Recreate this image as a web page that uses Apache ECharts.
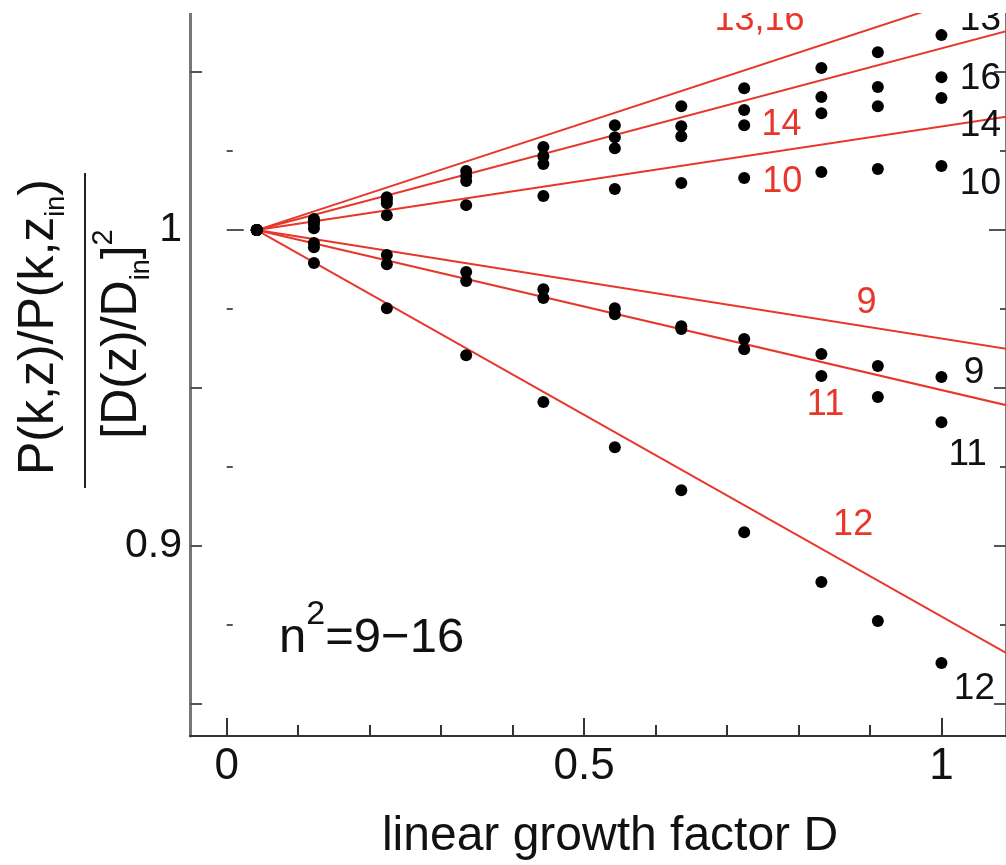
<!DOCTYPE html>
<html>
<head>
<meta charset="utf-8">
<script src="https://cdn.jsdelivr.net/npm/echarts@6/dist/echarts.min.js"></script>
<style>
  html, body { margin: 0; padding: 0; background: #fff; }
  #chart { width: 1006px; height: 865px; }
</style>
</head>
<body>
<div id="chart"></div>
<script>
// Linear growth factor D at each output time
const growthD = [0.042, 0.122, 0.224, 0.335, 0.443, 0.543, 0.636, 0.724, 0.832, 0.911, 1.0];

// P(k,z)/P(k,z_in) / [D(z)/D_in]^2 for each mode n^2
const ratioN9  = [1.0000, 0.9959, 0.9921, 0.9867, 0.9813, 0.9753, 0.9696, 0.9655, 0.9608, 0.9570, 0.9535];
const ratioN10 = [1.0000, 1.0006, 1.0047, 1.0079, 1.0108, 1.0130, 1.0149, 1.0165, 1.0184, 1.0193, 1.0203];
const ratioN11 = [1.0000, 0.9946, 0.9892, 0.9839, 0.9785, 0.9734, 0.9687, 0.9623, 0.9538, 0.9472, 0.9392];
const ratioN12 = [1.0000, 0.9896, 0.9753, 0.9604, 0.9456, 0.9313, 0.9177, 0.9044, 0.8886, 0.8763, 0.8630];
const ratioN13 = [1.0000, 1.0035, 1.0104, 1.0187, 1.0263, 1.0332, 1.0392, 1.0449, 1.0513, 1.0563, 1.0617];
const ratioN14 = [1.0000, 1.0019, 1.0085, 1.0155, 1.0209, 1.0259, 1.0297, 1.0332, 1.0370, 1.0392, 1.0418];
const ratioN16 = [1.0000, 1.0028, 1.0095, 1.0171, 1.0234, 1.0294, 1.0329, 1.0380, 1.0421, 1.0453, 1.0484];

const modeNames = ['9', '10', '11', '12', '13', '14', '16'];
const modeRatios = [ratioN9, ratioN10, ratioN11, ratioN12, ratioN13, ratioN14, ratioN16];

// Perturbative predictions: straight lines from the first output
const predictionNames = ['13,16', '14', '10', '9', '11', '12'];
const predictionStart = [0.042, 1.0];
const predictionEndD = 1.1;
const predictionEndValues = [1.0784, 1.0635, 1.0362, 0.9621, 0.9441, 0.8650];

// Axis ticks
const xMajorTicks = [0, 0.5, 1];
const xMinorTicks = [0.1, 0.2, 0.3, 0.4, 0.6, 0.7, 0.8, 0.9];
const yLabelTicks = [0.9, 1];
const yMajorTicks = [0.85, 0.9, 0.95, 1.05];
const yMinorTicks = [0.875, 0.925, 0.975, 1.025];
const yUnityTick = [1];

// Axis ranges
const xRange = [-0.0514, 1.0903];
const yRange = [0.8399, 1.0687];

// Text annotations: [D, ratio, text]
const predictionTags = [
  [0.6818, 1.0665, '13,16'],
  [0.7474, 1.0332, '14'],
  [0.7484, 1.0152, '10'],
  [0.8804, 0.9769, '9'],
  [0.8109, 0.9446, '11'],
  [0.8477, 0.9066, '12']
];
const modeTags = [
  [1.0250, 1.0665, '13'],
  [1.0250, 1.0478, '16'],
  [1.0250, 1.0329, '14'],
  [1.0250, 1.0146, '10'],
  [1.0305, 0.9549, '9'],
  [1.0090, 0.9288, '11'],
  [1.0166, 0.8549, '12']
];

const FONT = '"Liberation Sans", Arial, Helvetica, sans-serif';
const RED = '#e8372a';
const INK = '#111';
const AXIS_GREY = '#555';

const chart = echarts.init(document.getElementById('chart'), null, { renderer: 'canvas' });

function yAxisDef(position, ticks, len, extra) {
  return Object.assign({
    type: 'value', position: position, min: yRange[0], max: yRange[1],
    axisLine: { show: false },
    axisTick: { show: true, inside: true, length: len, customValues: ticks,
                lineStyle: { color: AXIS_GREY, width: 2 } },
    axisLabel: { show: false },
    splitLine: { show: false }
  }, extra || {});
}

const series = [];

predictionNames.forEach((name, i) => {
  series.push({
    name: 'pred ' + name, type: 'line', xAxisIndex: 0, yAxisIndex: 0,
    data: [predictionStart, [predictionEndD, predictionEndValues[i]]],
    showSymbol: false, symbol: 'none', silent: true, clip: true,
    lineStyle: { color: RED, width: 2 }, z: 3
  });
});

modeNames.forEach((name, i) => {
  series.push({
    name: 'n2=' + name, type: 'scatter', xAxisIndex: 0, yAxisIndex: 0,
    data: growthD.map((d, j) => [d, modeRatios[i][j]]),
    symbol: 'circle', symbolSize: 12, silent: true,
    itemStyle: { color: '#000', opacity: 1 }, z: 4
  });
});

function tagSeries(name, tags, color, size) {
  return {
    name: name, type: 'scatter', xAxisIndex: 0, yAxisIndex: 0, silent: true,
    data: tags.map(t => ({ value: [t[0], t[1]], name: t[2] })),
    symbol: 'circle', symbolSize: 1,
    itemStyle: { color: 'rgba(0,0,0,0)', opacity: 1 },
    label: { show: true, position: 'right', distance: 0, color: color,
             fontSize: size, fontFamily: FONT, formatter: p => p.name },
    z: 5
  };
}
series.push(tagSeries('prediction tags', predictionTags, RED, 36));
series.push(tagSeries('mode tags', modeTags, INK, 37));

const option = {
  animation: false,
  backgroundColor: '#fff',
  grid: { left: 190, top: 13, width: 822, height: 723, containLabel: false },
  xAxis: [
    {
      type: 'value', position: 'bottom', min: xRange[0], max: xRange[1],
      axisLine: { show: true, onZero: false, lineStyle: { color: '#333', width: 2 } },
      axisTick: { show: true, inside: true, length: 18, customValues: xMajorTicks,
                  lineStyle: { color: '#333', width: 2 } },
      axisLabel: { show: true, customValues: xMajorTicks, fontSize: 44, fontFamily: FONT,
                   color: INK, margin: 9 },
      splitLine: { show: false }
    },
    {
      type: 'value', position: 'bottom', min: xRange[0], max: xRange[1],
      axisLine: { show: false },
      axisTick: { show: true, inside: true, length: 11, customValues: xMinorTicks,
                  lineStyle: { color: '#333', width: 2 } },
      axisLabel: { show: false },
      splitLine: { show: false }
    }
  ],
  yAxis: [
    yAxisDef('left', yMajorTicks, 12, {
      axisLine: { show: true, onZero: false, lineStyle: { color: '#777', width: 3 } },
      axisLabel: { show: true, customValues: yLabelTicks, fontSize: 41, fontFamily: FONT,
                   color: INK, margin: 8 }
    }),
    yAxisDef('left', yMinorTicks, 6),
    yAxisDef('left', yUnityTick, 17),
    yAxisDef('right', yMajorTicks, 12, {
      axisLine: { show: true, onZero: false, lineStyle: { color: '#777', width: 3 } }
    }),
    yAxisDef('right', yMinorTicks, 6),
    yAxisDef('right', yUnityTick, 17)
  ],
  series: series,
  graphic: [
    // numerator of the y-axis title
    {
      type: 'text', x: 39, y: 327, rotation: Math.PI / 2, silent: true,
      style: {
        text: '{m|P(k,z)/P(k,z}{s|in}{m|)}',
        align: 'center', verticalAlign: 'middle',
        rich: {
          m: { fontSize: 50, fontFamily: FONT, fill: INK, lineHeight: 62, verticalAlign: 'middle' },
          s: { fontSize: 27, fontFamily: FONT, fill: INK, lineHeight: 27, verticalAlign: 'bottom' }
        }
      }
    },
    // fraction bar
    {
      type: 'line', silent: true,
      shape: { x1: 85, y1: 173, x2: 85, y2: 488 },
      style: { stroke: '#222', lineWidth: 2 }
    },
    // denominator of the y-axis title
    {
      type: 'text', x: 122, y: 334, rotation: Math.PI / 2, silent: true,
      style: {
        text: '{m|[D(z)/D}{s|in}{m|]}{p|2}',
        align: 'center', verticalAlign: 'middle',
        rich: {
          m: { fontSize: 50, fontFamily: FONT, fill: INK, lineHeight: 66, verticalAlign: 'middle' },
          s: { fontSize: 27, fontFamily: FONT, fill: INK, lineHeight: 27, verticalAlign: 'bottom' },
          p: { fontSize: 29, fontFamily: FONT, fill: INK, lineHeight: 29, verticalAlign: 'top' }
        }
      }
    },
    // x-axis title
    {
      type: 'text', x: 610, y: 837, silent: true,
      style: {
        text: 'linear growth factor D', fontSize: 48, fontFamily: FONT, fill: INK,
        align: 'center', verticalAlign: 'middle'
      }
    },
    // range of modes shown
    {
      type: 'text', x: 279, y: 638, silent: true,
      style: {
        text: '{m|n}{p|2}{m|=9\u221216}',
        align: 'left', verticalAlign: 'middle',
        rich: {
          m: { fontSize: 49, fontFamily: FONT, fill: INK, lineHeight: 80, verticalAlign: 'middle' },
          p: { fontSize: 34, fontFamily: FONT, fill: INK, lineHeight: 34, verticalAlign: 'top' }
        }
      }
    },
    // upper edge of the plotting window
    {
      type: 'rect', z: 100, silent: true,
      shape: { x: 0, y: 0, width: 1006, height: 13 },
      style: { fill: '#fff' }
    }
  ]
};

chart.setOption(option);
</script>
</body>
</html>
